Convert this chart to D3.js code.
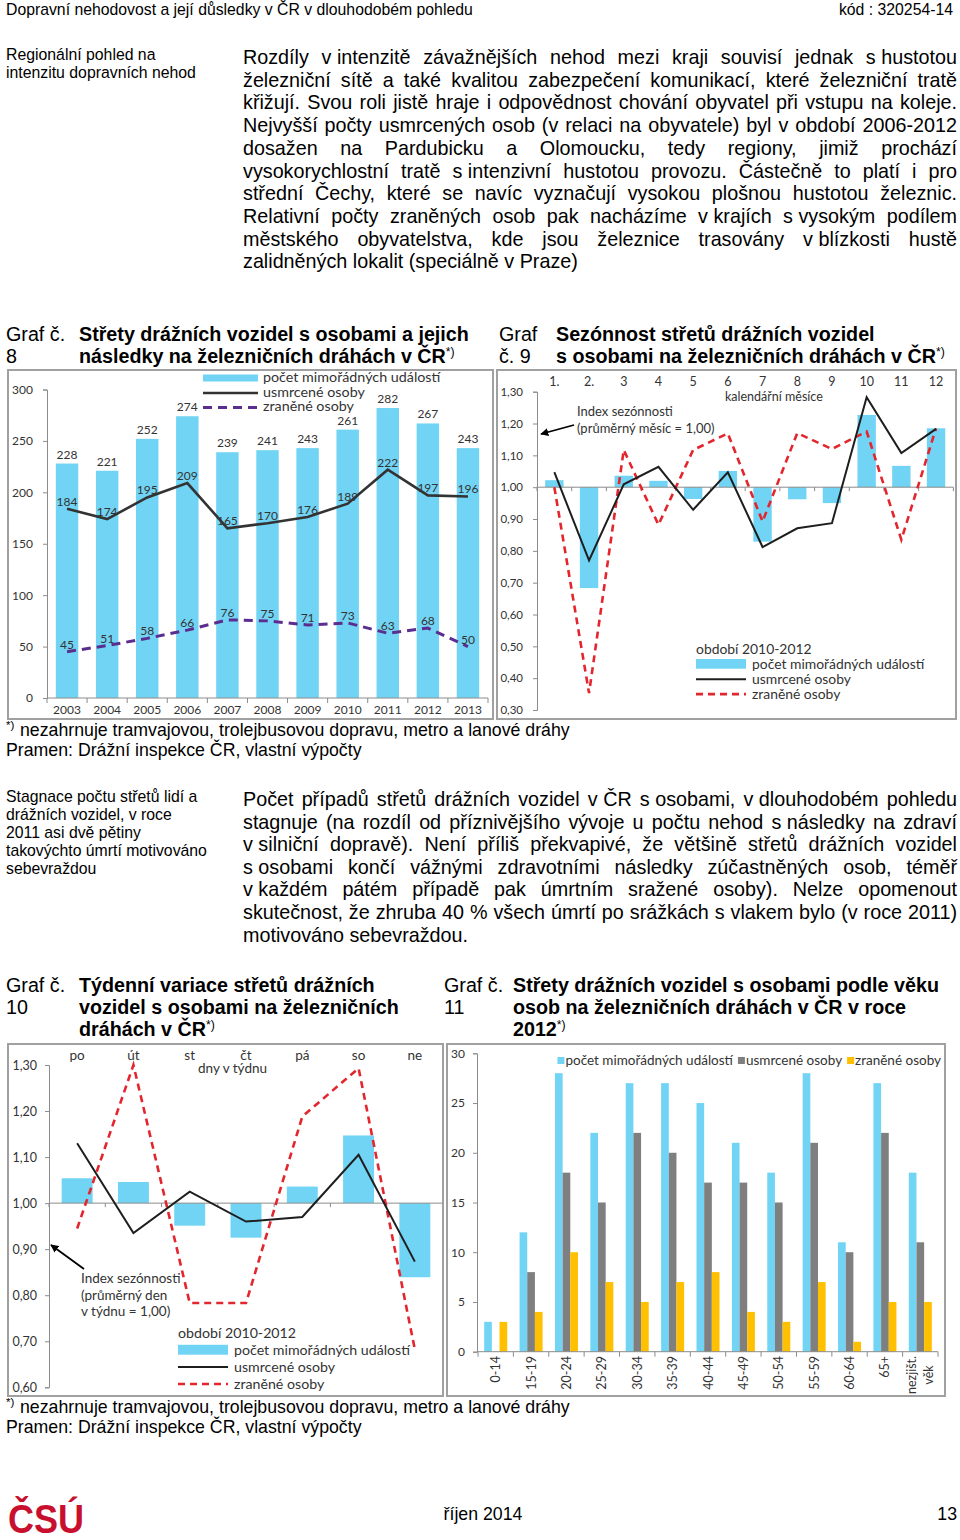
<!DOCTYPE html>
<html><head><meta charset="utf-8">
<script src="https://cdn.jsdelivr.net/npm/d3@7"></script>
<style>
body{margin:0;background:#fff}
svg{display:block}
.t{font-family:"Liberation Sans",Arial,sans-serif;fill:#000}
.c{font-family:Lato,"Open Sans",sans-serif;fill:#333}
</style></head><body>
<svg id="page" width="960" height="1540"></svg>
<script>
// ---------- DATA ----------
const years = ["2003","2004","2005","2006","2007","2008","2009","2010","2011","2012","2013"];
const events8 = [228,221,252,274,239,241,243,261,282,267,243];
const killed8 = [184,174,195,209,165,170,176,189,222,197,196];
const injured8 = [45,51,58,66,76,75,71,73,63,68,50];
const ticks8 = [0,50,100,150,200,250,300];

const months = ["1.","2.","3","4","5","6","7","8","9","10","11","12"];
const events9 = [1.022,0.683,1.036,1.02,0.963,1.051,0.829,0.962,0.95,1.227,1.067,1.185];
const killed9 = [1.047,0.77,1.009,1.064,0.929,1.047,0.812,0.871,0.887,1.283,1.107,1.183];
const injured9 = [1.00,0.353,1.117,0.882,1.117,1.169,0.892,1.17,1.12,1.175,0.835,1.185];
const ticks9 = [0.3,0.4,0.5,0.6,0.7,0.8,0.9,1.0,1.1,1.2,1.3];

const days = ["po","út","st","čt","pá","so","ne"];
const events10 = [1.054,1.046,0.951,0.925,1.036,1.147,0.839];
const killed10 = [1.13,0.935,1.025,0.96,0.97,1.105,0.873];
const injured10 = [0.945,1.30,0.783,0.783,1.188,1.293,0.682];
const ticks10 = [0.6,0.7,0.8,0.9,1.0,1.1,1.2,1.3];

const ages = ["0-14","15-19","20-24","25-29","30-34","35-39","40-44","45-49","50-54","55-59","60-64","65+","nezjišt.|věk"];
const events11 = [3,12,28,22,27,27,25,21,18,28,11,27,18];
const killed11 = [0,8,18,15,22,20,17,17,15,21,10,22,11];
const injured11 = [3,4,10,7,5,7,8,4,3,7,1,5,5];
const ticks11 = [0,5,10,15,20,25,30];

const seriesNames = ["počet mimořádných událostí","usmrcené osoby","zraněné osoby"];

const para1 = [
"Rozdíly v\u00a0intenzitě závažnějších nehod mezi kraji souvisí jednak s\u00a0hustotou",
"železniční sítě a také kvalitou zabezpečení komunikací, které železniční tratě",
"křižují. Svou roli jistě hraje i odpovědnost chování obyvatel při vstupu na koleje.",
"Nejvyšší počty usmrcených osob (v relaci na obyvatele) byl v období 2006-2012",
"dosažen na Pardubicku a Olomoucku, tedy regiony, jimiž prochází",
"vysokorychlostní tratě s\u00a0intenzivní hustotou provozu. Částečně to platí i pro",
"střední Čechy, které se navíc vyznačují vysokou plošnou hustotou železnic.",
"Relativní počty zraněných osob pak nacházíme v\u00a0krajích s\u00a0vysokým podílem",
"městského obyvatelstva, kde jsou železnice trasovány v\u00a0blízkosti hustě",
"zalidněných lokalit (speciálně v Praze)"];
const para2 = [
"Počet případů střetů drážních vozidel v\u00a0ČR s\u00a0osobami, v\u00a0dlouhodobém pohledu",
"stagnuje (na rozdíl od příznivějšího vývoje u počtu nehod s\u00a0následky na zdraví",
"v\u00a0silniční dopravě). Není příliš překvapivé, že většině střetů drážních vozidel",
"s\u00a0osobami končí vážnými zdravotními následky zúčastněných osob, téměř",
"v\u00a0každém pátém případě pak úmrtním sražené osoby). Nelze opomenout",
"skutečnost, že zhruba 40 % všech úmrtí po srážkách s vlakem bylo (v roce 2011)",
"motivováno sebevraždou."];

// ---------- SETUP ----------
const BLUE = "#72d4f4", GRAY = "#7f7f7f", GOLD = "#ffc000", RED = "#e3262e", PURP = "#5b2d8e";
const svg = d3.select("#page");
const defs = svg.append("defs");
defs.append("marker").attr("id","arr").attr("viewBox","0 0 10 10").attr("refX",9).attr("refY",5)
  .attr("markerWidth",4.5).attr("markerHeight",4.5).attr("orient","auto")
  .append("path").attr("d","M0,0L10,5L0,10z").attr("fill","#000");

function measure(txt, size, weight, cls){
  const t = svg.append("text").attr("class",cls||"t").attr("font-size",size).attr("font-weight",weight||"normal").text(txt);
  const w = t.node().getComputedTextLength(); t.remove(); return w;
}
function fit(txt, target, weight){ return 100*target/measure(txt,100,weight); }

function T(x,y,txt,size,opt){
  opt=opt||{};
  return svg.append("text").attr("class",opt.cls||"t").attr("x",x).attr("y",y).attr("font-size",size)
    .attr("font-weight",opt.w||"normal").attr("text-anchor",opt.a||"start").attr("fill",opt.fill||null).text(txt);
}
function para(lines,x0,x1,y0,lh,size){
  lines.forEach((ln,i)=>{
    const y = y0+i*lh;
    if(i===lines.length-1){ T(x0,y,ln,size); return; }
    const words = ln.split(" ");
    const t = svg.append("text").attr("class","t").attr("font-size",size).attr("y",y);
    const sp = words.map(w=>t.append("tspan").text(w));
    const ws = sp.map(s=>s.node().getComputedTextLength());
    const gap = (x1-x0-d3.sum(ws))/(words.length-1);
    let x=x0; sp.forEach((s,j)=>{s.attr("x",x); x+=ws[j]+gap;});
  });
}

// ---------- TEXT ----------
const hs = fit("Dopravní nehodovost a její důsledky v ČR v dlouhodobém pohledu",467);
T(6,15,"Dopravní nehodovost a její důsledky v ČR v dlouhodobém pohledu",hs);
T(953,15,"kód : 320254-14",hs,{a:"end"});

const ss = fit("intenzitu dopravních nehod",190);
T(6,60,"Regionální pohled na",ss);
T(6,78,"intenzitu dopravních nehod",ss);

const bs = fit("zalidněných lokalit (speciálně v Praze)",335);
para(para1,243,957,64,22.7,bs);

const ts = fit("Střety drážních vozidel s osobami a jejich",390,"bold");
function supTitle(x,y,txt){
  const t = T(x,y,txt,ts,{w:"bold"});
  t.append("tspan").attr("dy",-7).attr("font-size",ts*0.62).attr("font-weight","normal").text("*)");
}
T(6,341,"Graf č.",ts); T(6,363,"8",ts);
T(79,341,"Střety drážních vozidel s osobami a jejich",ts,{w:"bold"});
supTitle(79,363,"následky na železničních dráhách v ČR");
T(499,341,"Graf",ts); T(499,363,"č. 9",ts);
T(556,341,"Sezónnost střetů drážních vozidel",ts,{w:"bold"});
supTitle(556,363,"s osobami na železničních dráhách v ČR");

const fs = fit("nezahrnuje tramvajovou, trolejbusovou dopravu, metro a lanové dráhy",550);
function foot(y){
  T(6,y-7,"*)",fs*0.65);
  T(20,y,"nezahrnuje tramvajovou, trolejbusovou dopravu, metro a lanové dráhy",fs);
  T(6,y+20,"Pramen: Drážní inspekce ČR, vlastní výpočty",fs);
}
foot(736);

const ss2 = fit("takovýchto úmrtí motivováno",201);
["Stagnace počtu střetů lidí a","drážních vozidel, v roce","2011 asi dvě pětiny","takovýchto úmrtí motivováno","sebevraždou"]
  .forEach((l,i)=>T(6,802+i*18,l,ss2));
para(para2,243,957,806,22.6,bs);

T(6,992,"Graf č.",ts); T(6,1014,"10",ts);
T(79,992,"Týdenní variace střetů drážních",ts,{w:"bold"});
T(79,1014,"vozidel s osobami na železničních",ts,{w:"bold"});
supTitle(79,1036,"dráhách v ČR");
T(444,992,"Graf č.",ts); T(444,1014,"11",ts);
T(513,992,"Střety drážních vozidel s osobami podle věku",ts,{w:"bold"});
T(513,1014,"osob na železničních dráhách v ČR v roce",ts,{w:"bold"});
supTitle(513,1036,"2012");
foot(1413);

// footer
svg.append("text").attr("x",8).attr("y",1533).attr("font-family","Liberation Sans, Arial").attr("font-weight","bold")
  .attr("font-size",40).attr("fill","#c8102e").attr("textLength",76).attr("lengthAdjust","spacingAndGlyphs").text("ČSÚ");
T(483,1520,"říjen 2014",fs,{a:"middle"});
T(957,1520,"13",fs,{a:"end"});

// ---------- CHART HELPERS ----------
function box(x,y,w,h,id){
  svg.append("rect").attr("x",x).attr("y",y).attr("width",w).attr("height",h).attr("fill","#fff")
    .attr("stroke","#a0a0a0").attr("stroke-width",2);
  defs.append("clipPath").attr("id",id).append("rect").attr("x",x+1).attr("y",y+1).attr("width",w-2).attr("height",h-2);
  return svg.append("g").attr("clip-path",`url(#${id})`);
}
function styleAxis(a){
  a.selectAll(".domain").attr("stroke","#8c8c8c");
  a.selectAll(".tick line").attr("stroke","#8c8c8c");
  a.selectAll("text").attr("class","c").attr("fill","#333").attr("font-family","Lato, 'Open Sans', sans-serif");
}
function boundaryTicks(g,x,cats,y,len){
  const step = x.step(), x0 = x.range()[0];
  for(let i=0;i<=cats.length;i++){
    g.append("line").attr("x1",x0+i*step).attr("x2",x0+i*step).attr("y1",y).attr("y2",y+len).attr("stroke","#8c8c8c");
  }
}
const fmt2 = d=>d3.format(".2f")(d).replace(".",",");

// ---------- CHART 8 ----------
{
  const g = box(8,370,485,349,"c8");
  const x = d3.scaleBand().domain(years).range([47,488]).paddingInner(0.44).paddingOuter(0.22);
  const y = d3.scaleLinear().domain([0,300]).range([698,389.5]);
  const cx = (d,i)=>x(years[i])+x.bandwidth()/2;
  g.selectAll(".b8").data(events8).join("rect").attr("x",(d,i)=>x(years[i])).attr("y",d=>y(d))
    .attr("width",x.bandwidth()).attr("height",d=>y(0)-y(d)).attr("fill",BLUE);
  const ay = g.append("g").attr("transform","translate(47,0)")
    .call(d3.axisLeft(y).tickValues(ticks8).tickSize(4).tickPadding(10));
  styleAxis(ay); ay.selectAll("text").attr("font-size",12);
  const ax = g.append("g").attr("transform","translate(0,698)")
    .call(d3.axisBottom(x).tickSize(0).tickPadding(7));
  styleAxis(ax); ax.selectAll("text").attr("font-size",12).attr("fill","#222");
  ax.select(".domain").attr("d","M47,0H488");
  boundaryTicks(g,x,years,698,5);
  g.append("path").datum(killed8).attr("fill","none").attr("stroke","#333").attr("stroke-width",2.6)
    .attr("d",d3.line().x(cx).y(d=>y(d)));
  g.append("path").datum(injured8).attr("fill","none").attr("stroke",PURP).attr("stroke-width",3)
    .attr("stroke-dasharray","9,6").attr("d",d3.line().x(cx).y(d=>y(d)));
  g.selectAll(".l1").data(events8).join("text").attr("class","c").attr("x",cx).attr("y",d=>y(d)-5)
    .attr("text-anchor","middle").attr("font-size",12).attr("fill","#3aaecb").text(d=>d);
  g.selectAll(".l2").data(killed8).join("text").attr("class","c").attr("x",cx).attr("y",d=>y(d)-3)
    .attr("text-anchor","middle").attr("font-size",12).attr("fill","#1a1a1a").text(d=>d);
  g.selectAll(".l3").data(injured8).join("text").attr("class","c").attr("x",cx).attr("y",d=>y(d)-3)
    .attr("text-anchor","middle").attr("font-size",12).attr("fill","#4d4ea3").text(d=>d);
  // legend
  const lx=203;
  g.append("rect").attr("x",lx).attr("y",374.5).attr("width",55).attr("height",7).attr("fill",BLUE);
  g.append("line").attr("x1",lx).attr("x2",lx+55).attr("y1",393).attr("y2",393).attr("stroke","#333").attr("stroke-width",2.6);
  g.append("line").attr("x1",lx).attr("x2",lx+55).attr("y1",407.5).attr("y2",407.5).attr("stroke",PURP).attr("stroke-width",3).attr("stroke-dasharray","9,6");
  seriesNames.forEach((s,i)=>g.append("text").attr("class","c").attr("x",263).attr("y",382+i*14.5)
    .attr("font-size",14.3).attr("fill","#333").text(s));
}

// ---------- INDEX CHARTS (9, 10) ----------
function indexChart(o){
  const g = box(o.bx,o.by,o.bw,o.bh,o.id);
  const x = d3.scaleBand().domain(o.cats).range(o.xr).paddingInner(o.pad).paddingOuter(o.pad/2);
  const y = d3.scaleLinear().domain(o.yd).range(o.yr);
  const cx = (d,i)=>x(o.cats[i])+x.bandwidth()/2;
  g.selectAll(".b").data(o.ev).join("rect").attr("x",(d,i)=>x(o.cats[i])).attr("y",d=>Math.min(y(1),y(d)))
    .attr("width",x.bandwidth()).attr("height",d=>Math.abs(y(d)-y(1))).attr("fill",BLUE);
  const ay = g.append("g").attr("transform",`translate(${o.xr[0]},0)`)
    .call(d3.axisLeft(y).tickValues(o.ticks).tickFormat(fmt2).tickSize(4).tickPadding(o.tp));
  styleAxis(ay); ay.selectAll("text").attr("font-size",o.tickS);
  g.append("line").attr("x1",o.xr[0]).attr("x2",o.xr[1]).attr("y1",y(1)).attr("y2",y(1)).attr("stroke","#8c8c8c");
  boundaryTicks(g,x,o.cats,y(1),4);
  g.selectAll(".cl").data(o.cats).join("text").attr("class","c").attr("x",(d,i)=>cx(d,i)).attr("y",o.labY)
    .attr("text-anchor","middle").attr("font-size",o.labS).attr("fill","#333").text(d=>d);
  g.append("path").datum(o.inj).attr("fill","none").attr("stroke",RED).attr("stroke-width",2.6)
    .attr("stroke-dasharray","7,5").attr("d",d3.line().x(cx).y(d=>y(d)));
  g.append("path").datum(o.ki).attr("fill","none").attr("stroke","#1e1e1e").attr("stroke-width",2)
    .attr("d",d3.line().x(cx).y(d=>y(d)));
  g.append("text").attr("class","c").attr("x",o.axLab[0]).attr("y",o.axLab[1]).attr("font-size",o.labS).attr("fill","#333").text(o.axLab[2]);
  o.note.forEach((l,i)=>g.append("text").attr("class","c").attr("x",o.noteX).attr("y",o.noteY+i*o.noteLH)
    .attr("font-size",o.noteS).attr("fill","#333").text(l));
  g.append("line").attr("x1",o.arrow[0]).attr("y1",o.arrow[1]).attr("x2",o.arrow[2]).attr("y2",o.arrow[3])
    .attr("stroke","#000").attr("stroke-width",1.8).attr("marker-end","url(#arr)");
  // legend
  const L=o.leg;
  g.append("text").attr("class","c").attr("x",L.x).attr("y",L.y).attr("font-size",L.s).attr("fill","#333").text("období 2010-2012");
  g.append("rect").attr("x",L.x).attr("y",L.y+L.dy-L.s*0.72).attr("width",50).attr("height",L.s*0.7).attr("fill",BLUE);
  g.append("line").attr("x1",L.x).attr("x2",L.x+50).attr("y1",L.y+2*L.dy-L.s*0.35).attr("y2",L.y+2*L.dy-L.s*0.35).attr("stroke","#1e1e1e").attr("stroke-width",2);
  g.append("line").attr("x1",L.x).attr("x2",L.x+50).attr("y1",L.y+3*L.dy-L.s*0.35).attr("y2",L.y+3*L.dy-L.s*0.35).attr("stroke",RED).attr("stroke-width",2.6).attr("stroke-dasharray","7,5");
  seriesNames.forEach((s,i)=>g.append("text").attr("class","c").attr("x",L.x+56).attr("y",L.y+(i+1)*L.dy)
    .attr("font-size",L.s).attr("fill","#333").text(s));
}
indexChart({id:"c9",bx:497,by:370,bw:459,bh:349,cats:months,ev:events9,ki:killed9,inj:injured9,
  xr:[537,953.4],pad:0.47,yd:[0.3,1.3],yr:[710,391.7],ticks:ticks9,tp:10,tickS:11.5,labY:386,labS:12.5,
  axLab:[725,401,"kalendářní měsíce"],note:["Index sezónnosti","(průměrný měsíc = 1,00)"],noteX:577,noteY:416,noteLH:17,noteS:13,
  arrow:[574,425,541,434],leg:{x:696,y:654,dy:15,s:13.9}});
indexChart({id:"c10",bx:8,by:1044,bw:435,bh:352,cats:days,ev:events10,ki:killed10,inj:injured10,
  xr:[49,443],pad:0.45,yd:[0.6,1.3],yr:[1387.3,1065],ticks:ticks10,tp:8,tickS:12.5,labY:1060,labS:13.5,
  axLab:[198,1073,"dny v týdnu"],note:["Index sezónnosti","(průměrný den","v týdnu = 1,00)"],noteX:81,noteY:1283,noteLH:16.5,noteS:13.5,
  arrow:[84,1269,51,1245],leg:{x:178,y:1338,dy:17,s:14.2}});

// ---------- CHART 11 ----------
{
  const g = box(447,1044,498,352,"c11");
  const x = d3.scaleBand().domain(ages).range([478,938]).paddingInner(0.35).paddingOuter(0.175);
  const sub = d3.scaleBand().domain([0,1,2]).range([0,x.bandwidth()]);
  const y = d3.scaleLinear().domain([0,30]).range([1351.7,1053.3]);
  const rows = ages.map((a,i)=>({a,v:[events11[i],killed11[i],injured11[i]]}));
  const cols=[BLUE,GRAY,GOLD];
  const gg = g.selectAll(".grp").data(rows).join("g").attr("transform",d=>`translate(${x(d.a)},0)`);
  gg.selectAll("rect").data(d=>d.v).join("rect").attr("x",(d,j)=>sub(j)).attr("y",d=>y(d))
    .attr("width",sub.bandwidth()).attr("height",d=>y(0)-y(d)).attr("fill",(d,j)=>cols[j]);
  const ay = g.append("g").attr("transform","translate(477,0)")
    .call(d3.axisLeft(y).tickValues(ticks11).tickSize(4).tickPadding(8));
  styleAxis(ay); ay.selectAll("text").attr("font-size",12);
  g.append("line").attr("x1",477).attr("x2",938).attr("y1",y(0)).attr("y2",y(0)).attr("stroke","#8c8c8c");
  boundaryTicks(g,x,ages,y(0),5);
  ages.forEach(a=>{
    const c = x(a)+x.bandwidth()/2;
    const parts = a.split("|");
    if(parts.length===1){
      g.append("text").attr("class","c").attr("font-size",12.5).attr("fill","#333").attr("text-anchor","end")
        .attr("dominant-baseline","central").attr("transform",`translate(${c},1356) rotate(-90)`).text(a);
    } else {
      const w1 = measure(parts[0],12.5,"normal","c");
      g.append("text").attr("class","c").attr("font-size",12.5).attr("fill","#333").attr("text-anchor","end")
        .attr("dominant-baseline","central").attr("transform",`translate(${c-9},1356) rotate(-90)`).text(parts[0]);
      g.append("text").attr("class","c").attr("font-size",12.5).attr("fill","#333").attr("text-anchor","middle")
        .attr("dominant-baseline","central").attr("transform",`translate(${c+8},${1356+w1/2}) rotate(-90)`).text(parts[1]);
    }
  });
  // legend, right aligned at 940
  const ls=13.5, sq=7, gap=5;
  const ws = seriesNames.map(s=>measure(s,ls,"normal","c"));
  const total = d3.sum(ws)+3*(sq+1)+2*gap;
  let lx = 941-total;
  seriesNames.forEach((s,i)=>{
    g.append("rect").attr("x",lx).attr("y",1057).attr("width",sq).attr("height",sq).attr("fill",cols[i]);
    lx+=sq+1;
    g.append("text").attr("class","c").attr("x",lx).attr("y",1065).attr("font-size",ls).attr("fill","#333").text(s);
    lx+=ws[i]+gap;
  });
}
</script>
</body></html>
